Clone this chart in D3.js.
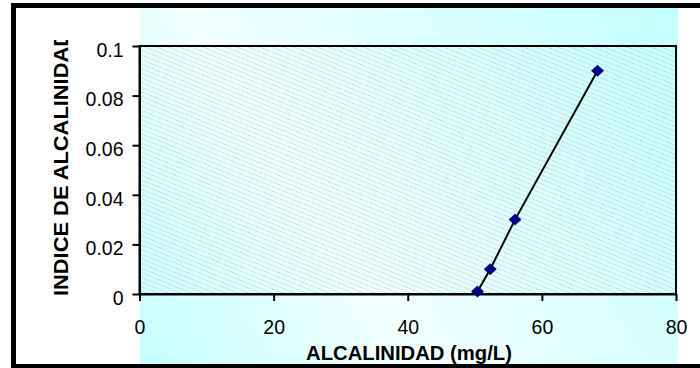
<!DOCTYPE html>
<html>
<head>
<meta charset="utf-8">
<script src="https://cdn.jsdelivr.net/npm/d3@7/dist/d3.min.js"></script>
<style>
  html, body { margin: 0; padding: 0; background: #fff; }
  svg { display: block; }
  .tick text { font-family: "Liberation Sans", Arial, sans-serif; font-size: 19.5px; fill: #000; }
  .title { font-family: "Liberation Sans", Arial, sans-serif; font-size: 19.5px; font-weight: bold; fill: #000; }
</style>
</head>
<body>
<svg id="chart" width="700" height="368"></svg>
<script>
// Alcalinidad (mg/L) vs. índice de alcalinidad
const alcalinidad = [50.4, 52.3, 56, 68.3];
const indice = [0.001, 0.01, 0.03, 0.09];
const xTickValues = [0, 20, 40, 60, 80];
const yTickValues = [0, 0.02, 0.04, 0.06, 0.08, 0.1];
const xLabel = "ALCALINIDAD (mg/L)";
const yLabel = "INDICE DE ALCALINIDAD";

const svg = d3.select("#chart");
const W = 700, H = 368;
const plot = { left: 139.5, right: 676, top: 46, bottom: 294 };

const x = d3.scaleLinear().domain([0, 80]).range([plot.left, plot.right]);
const y = d3.scaleLinear().domain([0, 0.1]).range([plot.bottom, plot.top]);

const defs = svg.append("defs");

// soft turquoise chart-area gradient with a pale diagonal band
const grad = defs.append("linearGradient")
  .attr("id", "areaFill")
  .attr("gradientUnits", "userSpaceOnUse")
  .attr("x1", 140).attr("y1", 365)
  .attr("x2", 682).attr("y2", 17);
grad.append("stop").attr("offset", 0).attr("stop-color", "#c6ffff");
grad.append("stop").attr("offset", 0.36).attr("stop-color", "#f2ffff");
grad.append("stop").attr("offset", 1).attr("stop-color", "#c4ffff");

// fine dotted diagonal hatch for the plot area
const hatch = defs.append("pattern")
  .attr("id", "hatch")
  .attr("patternUnits", "userSpaceOnUse")
  .attr("width", 12).attr("height", 4.3)
  .attr("patternTransform", "rotate(22)");
hatch.append("line")
  .attr("x1", 0).attr("x2", 12).attr("y1", 2.15).attr("y2", 2.15)
  .attr("stroke", "#a6bfbf")
  .attr("stroke-width", 0.7)
  .attr("stroke-dasharray", "1.5,1");

defs.append("clipPath").attr("id", "yTitleClip")
  .append("rect").attr("x", 0).attr("y", 40).attr("width", 140).attr("height", 328);

// background and chart-area fill
svg.append("rect").attr("width", W).attr("height", H).attr("fill", "#fff");
svg.append("rect")
  .attr("x", 140).attr("y", 8)
  .attr("width", 538).attr("height", 356)
  .attr("fill", "url(#areaFill)");

// plot area with hatch
svg.append("rect")
  .attr("x", plot.left).attr("y", plot.top)
  .attr("width", plot.right - plot.left).attr("height", plot.bottom - plot.top)
  .attr("fill", "url(#hatch)")
  .attr("stroke", "#000").attr("stroke-width", 2);

// axes
const yAxis = d3.axisLeft(y).tickValues(yTickValues).tickSize(7).tickSizeOuter(0)
  .tickFormat(d => String(d));
const gy = svg.append("g").attr("transform", `translate(${plot.left},0)`).call(yAxis);
gy.selectAll("text").attr("x", -16).attr("dy", 0).attr("y", 10.3);

const xAxis = d3.axisBottom(x).tickValues(xTickValues).tickSize(7).tickSizeOuter(0)
  .tickFormat(d => String(d));
const gx = svg.append("g").attr("transform", `translate(0,${plot.bottom})`).call(xAxis);
gx.selectAll("text").attr("y", 40).attr("dy", 0);

[gx, gy].forEach(g => {
  g.selectAll(".domain").attr("stroke", "#000").attr("stroke-width", 2);
  g.selectAll(".tick line").attr("stroke", "#000").attr("stroke-width", 2);
});

// series line
const pts = alcalinidad.map((v, i) => [v, indice[i]]);
svg.append("path")
  .datum(pts)
  .attr("fill", "none")
  .attr("stroke", "#000")
  .attr("stroke-width", 2)
  .attr("d", d3.line().x(d => x(d[0])).y(d => y(d[1])));

// diamond markers
const diamond = {
  draw(ctx, size) {
    const w = Math.sqrt(size) * 0.55, h = Math.sqrt(size) * 0.5;
    ctx.moveTo(0, -h); ctx.lineTo(w, 0); ctx.lineTo(0, h); ctx.lineTo(-w, 0); ctx.closePath();
  }
};
svg.append("g").selectAll("path")
  .data(pts)
  .join("path")
  .attr("transform", d => `translate(${x(d[0])},${y(d[1])})`)
  .attr("d", d3.symbol().type(diamond).size(121))
  .attr("fill", "#000080")
  .attr("stroke", "#000080")
  .attr("stroke-width", 0.8);

// titles
svg.append("text").attr("class", "title")
  .attr("x", 409).attr("y", 360)
  .attr("text-anchor", "middle")
  .attr("textLength", 206).attr("lengthAdjust", "spacingAndGlyphs")
  .text(xLabel);

svg.append("g").attr("clip-path", "url(#yTitleClip)")
  .append("text").attr("class", "title")
  .attr("transform", "translate(68,296) rotate(-90)")
  .attr("x", 0).attr("y", 0)
  .attr("textLength", 265).attr("lengthAdjust", "spacingAndGlyphs")
  .text(yLabel);

// outer frame (open on the right edge)
svg.append("rect")
  .attr("x", 13.5).attr("y", 5.5)
  .attr("width", 700).attr("height", 361)
  .attr("fill", "none")
  .attr("stroke", "#000").attr("stroke-width", 5);
</script>
</body>
</html>
